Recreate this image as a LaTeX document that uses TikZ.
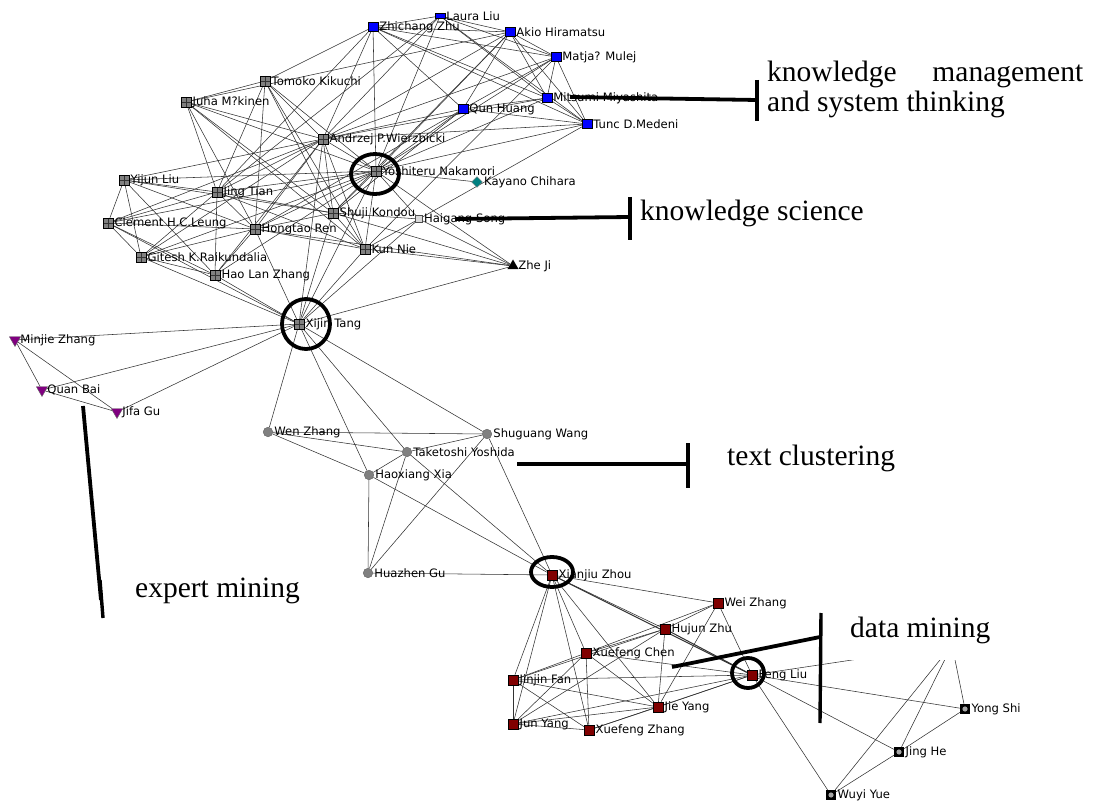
\documentclass[tikz,border=0pt]{standalone}
\usepackage{fontspec}
\setmainfont{Liberation Serif}
\newfontfamily\labfont{DejaVu Sans}
\usetikzlibrary{shapes.geometric}
\definecolor{nblue}{RGB}{0,0,255}
\definecolor{nred}{RGB}{128,0,0}
\definecolor{npurple}{RGB}{128,0,128}
\definecolor{nteal}{RGB}{0,128,128}
\definecolor{ngray}{RGB}{128,128,128}
\definecolor{edgec}{RGB}{50,50,50}
\pgfdeclarelayer{bg}
\pgfsetlayers{bg,main}
\tikzset{
 edge/.style={draw=edgec, line width=0.55pt},
 lab/.style={font=\labfont\fontsize{11.6}{12}\selectfont, inner sep=1.2pt, text=black},
 bsq/.style={rectangle, draw=black, line width=0.5pt, fill=nblue, minimum size=9.5pt, inner sep=0pt},
 gsq/.style={rectangle, draw=black, line width=0.5pt, fill=ngray, minimum size=10pt, inner sep=0pt,
   path picture={\draw[black!80,line width=0.5pt] (path picture bounding box.north)--(path picture bounding box.south) (path picture bounding box.west)--(path picture bounding box.east);}},
 rsq/.style={rectangle, draw=black, line width=0.5pt, fill=nred, minimum size=10pt, inner sep=0pt},
 gci/.style={circle, draw=black!60, line width=0.5pt, fill=ngray, minimum size=9.5pt, inner sep=0pt},
 ptri/.style={regular polygon, regular polygon sides=3, shape border rotate=180, draw=black!60, fill=npurple, minimum size=13pt, inner sep=0pt},
 ktri/.style={regular polygon, regular polygon sides=3, fill=black, minimum size=13pt, inner sep=0pt},
 tdia/.style={diamond, fill=nteal, draw=black!50, minimum size=11pt, inner sep=0pt},
 osq/.style={rectangle, fill=black, minimum size=10pt, inner sep=0pt,
   path picture={\fill[black!35] (path picture bounding box.center) circle (2.6pt);}},
 hsq/.style={rectangle, draw=black!70, fill=black!15, minimum size=7pt, inner sep=0pt},
 ann/.style={font=\fontsize{29.5}{31}\selectfont, inner sep=0pt, anchor=base west},
 hl/.style={line width=3.8pt, black},
 tick/.style={line width=3.4pt, black}
}
\begin{document}
\begin{tikzpicture}[x=1pt,y=-1pt]
\useasboundingbox (0,0) rectangle (1093,802);
% blue cluster
\node[bsq, minimum height=5pt] (ll) at (440,16) [label={[lab]right:Laura Liu}] {};
\node[bsq] (zz) at (373,27) [label={[lab]right:Zhichang Zhu}] {};
\node[bsq] (ah) at (510,32) [label={[lab]right:Akio Hiramatsu}] {};
\node[bsq] (mm) at (556,57) [label={[lab]right:Matja? Mulej}] {};
\node[bsq] (mi) at (547,98) [label={[lab]right:Mitsumi Miyashita}] {};
\node[bsq] (qh) at (463,109) [label={[lab]right:Qun Huang}] {};
\node[bsq] (td) at (587,124) [label={[lab]right:Tunc D.Medeni}] {};
% grey cluster
\node[gsq] (tk) at (265,81) [label={[lab]right:Tomoko Kikuchi}] {};
\node[gsq] (jm) at (186,102) [label={[lab]right:Juha M?kinen}] {};
\node[gsq] (aw) at (323,139) [label={[lab]right:Andrzej P.Wierzbicki}] {};
\node[gsq] (yn) at (376,171) [label={[lab]right:Yoshiteru Nakamori}] {};
\node[tdia] (kc) at (477,182) [label={[lab]right:Kayano Chihara}] {};
\node[gsq] (yl) at (124,180) [label={[lab]right:Yijun Liu}] {};
\node[gsq] (jt) at (217,192) [label={[lab]right:Jing Tian}] {};
\node[gsq] (sk) at (333,213) [label={[lab]right:Shuji Kondou}] {};
\node[hsq] (hs) at (419,219) [label={[lab]right:Haigang Song}] {};
\node[gsq] (cl) at (108,223) [label={[lab]right:Clement H.C.Leung}] {};
\node[gsq] (hr) at (255,229) [label={[lab]right:Hongtao Ren}] {};
\node[gsq] (kn) at (365,249) [label={[lab]right:Kun Nie}] {};
\node[gsq] (gk) at (141,257) [label={[lab]right:Gitesh K.Raikundalia}] {};
\node[gsq] (hz) at (215,275) [label={[lab]right:Hao Lan Zhang}] {};
\node[ktri] (zj) at (513,266) [label={[lab]right:Zhe Ji}] {};
\node[gsq] (xt) at (299,324) [label={[lab]right:Xijin Tang}] {};
% purple
\node[ptri] (mz) at (15,340) [label={[lab]right:Minjie Zhang}] {};
\node[ptri] (qb) at (42,390) [label={[lab]right:Quan Bai}] {};
\node[ptri] (jg) at (117,412) [label={[lab]right:Jifa Gu}] {};
% grey circles
\node[gci] (wz) at (268,432) [label={[lab]right:Wen Zhang}] {};
\node[gci] (sw) at (487,434) [label={[lab]right:Shuguang Wang}] {};
\node[gci] (ty) at (407,452) [label={[lab]right:Taketoshi Yoshida}] {};
\node[gci] (hx) at (369,475) [label={[lab]right:Haoxiang Xia}] {};
\node[gci] (hg) at (368,573) [label={[lab]right:Huazhen Gu}] {};
% red cluster
\node[rsq] (xz) at (552,575) [label={[lab]right:Xianjiu Zhou}] {};
\node[rsq] (wei) at (718,603) [label={[lab]right:Wei Zhang}] {};
\node[rsq] (hj) at (665,629) [label={[lab]right:Hujun Zhu}] {};
\node[rsq] (xc) at (586,653) [label={[lab]right:Xuefeng Chen}] {};
\node[rsq] (fl) at (752,675) [label={[lab]right:Feng Liu}] {};
\node[rsq] (jf) at (513,680) [label={[lab]right:Jinjin Fan}] {};
\node[rsq] (jy) at (658,707) [label={[lab]right:Jie Yang}] {};
\node[rsq] (juy) at (513,724) [label={[lab]right:Jun Yang}] {};
\node[rsq] (xfz) at (589,730) [label={[lab]right:Xuefeng Zhang}] {};
% bottom right
\node[osq] (ys) at (965,709) [label={[lab]right:Yong Shi}] {};
\node[osq] (jh) at (899,752) [label={[lab]right:Jing He}] {};
\node[osq] (wy) at (831,795) [label={[lab]right:Wuyi Yue}] {};
\coordinate (hid) at (952,645);

\begin{pgfonlayer}{bg}
\foreach \a/\b in {zz/ah,zz/mm,zz/mi,zz/td,zz/qh,ll/ah,ll/mm,ll/mi,ll/td,ah/mm,ah/mi,ah/td,ah/qh,mm/mi,mm/td,mm/qh,mi/td,qh/td,qh/mi,zz/ll,
 zz/aw,zz/yn,zz/tk,zz/jt,ah/aw,ah/yn,ah/sk,ah/jm,mm/aw,mm/yn,mm/kn,mi/yn,mi/aw,td/yn,td/aw,td/hs,qh/aw,qh/yn,qh/sk,qh/hr,ll/aw,ll/yn,ll/jt,
 aw/yn,aw/tk,aw/jm,aw/yl,aw/jt,aw/cl,aw/hr,aw/sk,aw/kn,aw/xt,aw/gk,aw/hz,yn/tk,yn/jm,yn/yl,yn/jt,yn/cl,yn/hr,yn/sk,yn/kn,yn/hs,yn/gk,yn/hz,yn/xt,yn/kc,yn/zj,
 tk/jm,tk/sk,tk/kn,tk/hr,tk/jt,jm/jt,jm/hr,jm/sk,jm/kn,yl/jt,yl/cl,yl/gk,yl/hr,yl/hz,yl/sk,jt/cl,jt/hr,jt/sk,jt/gk,jt/hz,jt/kn,cl/gk,cl/hr,cl/hz,cl/xt,
 gk/hz,gk/xt,gk/hr,hz/xt,hz/hr,hr/xt,hr/sk,hr/kn,hr/zj,sk/kn,sk/xt,sk/zj,sk/hs,kn/xt,kn/zj,kn/hs,hs/zj,hs/xt,zj/xt,
 mz/qb,mz/jg,qb/jg,mz/xt,qb/xt,jg/xt,
 xt/wz,xt/hx,xt/ty,xt/sw,wz/sw,wz/ty,wz/hx,ty/sw,ty/hx,ty/hg,ty/xz,hx/hg,hx/xz,sw/xz,sw/hg,hg/xz,
 xz/wei,xz/hj,xz/xc,xz/jf,xz/juy,xz/xfz,xz/jy,wei/hj,wei/fl,wei/xc,wei/jy,hj/xc,hj/jy,hj/jf,hj/juy,
 xc/jf,xc/jy,xc/xfz,xc/fl,xc/juy,jf/fl,jf/jy,jf/juy,jf/xfz,jy/fl,jy/juy,jy/xfz,juy/xfz,juy/fl,xfz/fl,
 fl/ys,fl/jh,fl/wy,ys/jh,jh/wy,fl/hid,ys/hid,jh/hid,wy/hid}
 {\draw[edge] (\a) -- (\b);}
\draw[edge, line width=1.1pt] (xz) -- (fl);
\draw[edge, line width=1pt] (hj) -- (fl);
\end{pgfonlayer}

% highlight rings
\draw[hl] (375,174) ellipse [x radius=24, y radius=20];
\draw[hl] (306,324) ellipse [x radius=24, y radius=25];
\draw[hl] (552,572) ellipse [x radius=21, y radius=15];
\draw[hl] (748,673) ellipse [x radius=16, y radius=15];

% white text box hiding a node
\fill[white] (826,606) rectangle (1030,660);

% annotations
\node[ann] (km1) at (767,82) {\makebox[316pt][s]{knowledge management}};
\node[ann] (km2) at (767,112) {and system thinking};
\node[ann] (ksc) at (640,221) {knowledge science};
\node[ann] (tcl) at (727,465) {text clustering};
\node[ann] (emi) at (135,597) {expert mining};
\node[ann] (dmi) at (850,637) {data mining};

\coordinate (kmA) at (570,97); \coordinate (kmB) at (757,100);
\coordinate (kmT1) at (757,80); \coordinate (kmT2) at (757,121);
\draw[hl] (kmA) -- (kmB); \draw[tick] (kmT1) -- (kmT2);
\coordinate (ksA) at (455,219); \coordinate (ksB) at (630,217);
\coordinate (ksT1) at (630,197); \coordinate (ksT2) at (630,240);
\draw[hl] (ksA) -- (ksB); \draw[tick] (ksT1) -- (ksT2);
\coordinate (tcA) at (517,464); \coordinate (tcB) at (688,464);
\coordinate (tcT1) at (688,443); \coordinate (tcT2) at (688,488);
\draw[hl] (tcA) -- (tcB); \draw[tick] (tcT1) -- (tcT2);
\coordinate (emA) at (83,406); \coordinate (emB) at (101,600);
\coordinate (emT1) at (100,580); \coordinate (emT2) at (103,618);
\draw[hl] (emA) -- (emB); \draw[tick] (emT1) -- (emT2);
\coordinate (dmA) at (672,667); \coordinate (dmB) at (820,637);
\coordinate (dmT1) at (821,613); \coordinate (dmT2) at (820,723);
\draw[hl] (dmA) -- (dmB); \draw[tick] (dmT1) -- (dmT2);
\end{tikzpicture}
\end{document}
